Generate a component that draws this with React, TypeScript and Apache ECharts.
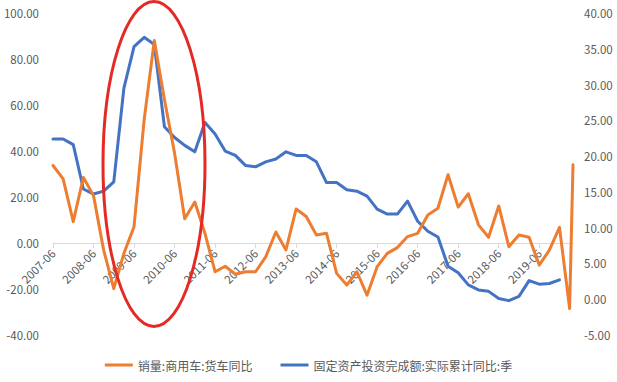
import React, { useEffect, useRef } from "react";
import * as echarts from "echarts";

const quarters = [
  "2007-06", "2007-09", "2007-12",
  "2008-03", "2008-06", "2008-09", "2008-12",
  "2009-03", "2009-06", "2009-09", "2009-12",
  "2010-03", "2010-06", "2010-09", "2010-12",
  "2011-03", "2011-06", "2011-09", "2011-12",
  "2012-03", "2012-06", "2012-09", "2012-12",
  "2013-03", "2013-06", "2013-09", "2013-12",
  "2014-03", "2014-06", "2014-09", "2014-12",
  "2015-03", "2015-06", "2015-09", "2015-12",
  "2016-03", "2016-06", "2016-09", "2016-12",
  "2017-03", "2017-06", "2017-09", "2017-12",
  "2018-03", "2018-06", "2018-09", "2018-12",
  "2019-03", "2019-06", "2019-09", "2019-12",
  "2020-03",
];
const truckDates = [...quarters, "2020-04"];

// 销量:商用车:货车同比 (left axis)
const truckSalesYoY = [
  33.7, 27.9, 9.3, 28.5, 20.6, -3.1, -19.8, -4.5, 7.1, 53.6,
  88.0, 62.4, 39.1, 10.5, 17.8, 4.2, -12.5, -10.1, -13.6, -12.5,
  -12.5, -6.0, 4.8, -3.0, 14.8, 11.5, 3.5, 4.2, -13.2, -18.3,
  -12.5, -22.7, -10.3, -4.5, -2.0, 2.8, 4.2, 12.2, 15.1, 29.7,
  15.6, 21.4, 7.9, 2.5, 16.1, -1.6, 3.5, 2.5, -9.6, -3.1,
  6.8, -28.5, 34.0,
];

// 固定资产投资完成额:实际累计同比:季 (right axis)
const faiYoY = [
  22.4, 22.4, 21.6, 15.4, 14.7, 15.1, 16.4, 29.5, 35.3, 36.6,
  35.6, 24.1, 22.6, 21.5, 20.6, 24.7, 23.1, 20.7, 20.1, 18.7,
  18.5, 19.2, 19.6, 20.6, 20.1, 20.1, 19.2, 16.3, 16.3, 15.3,
  15.1, 14.4, 12.6, 11.9, 11.9, 13.7, 10.9, 9.5, 8.7, 4.6,
  3.7, 2.0, 1.3, 1.1, 0.1, -0.2, 0.4, 2.6, 2.1, 2.2,
  2.7,
];

const xTickLabels = [
  "2007-06", "2008-06", "2009-06", "2010-06", "2011-06", "2012-06", "2013-06",
  "2014-06", "2015-06", "2016-06", "2017-06", "2018-06", "2019-06",
];

const leftAxisRange = [-40, 100];
const rightAxisRange = [-5, 40];

const seriesNames = ["销量:商用车:货车同比", "固定资产投资完成额:实际累计同比:季"];
const seriesColors = ["#ED7D31", "#4472C4"];

const monthIndex = (s: string) => {
  const [y, m] = s.split("-").map(Number);
  return (y - 2007) * 12 + (m - 6);
};

export default function App() {
  const ref = useRef<HTMLDivElement>(null);
  useEffect(() => {
    if (!ref.current) return;
    document.body.style.margin = "0";
    const chart = echarts.init(ref.current, undefined, { renderer: "svg" });
    const tickVals = xTickLabels.map(monthIndex);
    const labelFont = { color: "#595959", fontSize: 11.5, fontFamily: "Noto Sans CJK SC" };
    const gridTop = 13;
    const gridBottom = 47;
    const gridHeight = 382 - gridTop - gridBottom;
    // move the category line up to the left axis's zero
    const zeroOffset = -gridHeight * (0 - leftAxisRange[0]) / (leftAxisRange[1] - leftAxisRange[0]);
    chart.setOption({
      animation: false,
      backgroundColor: "#ffffff",
      grid: { left: 53, right: 44, top: gridTop, bottom: gridBottom, containLabel: false, outerBoundsMode: "none" },
      legend: {
        left: "center",
        top: 354,
        icon: "rect",
        itemWidth: 28,
        itemHeight: 3,
        itemGap: 28,
        textStyle: { color: "#595959", fontSize: 12, fontFamily: "Noto Sans CJK SC" },
        data: seriesNames,
      },
      xAxis: {
        type: "value",
        position: "bottom",
        offset: zeroOffset,
        min: monthIndex(truckDates[0]),
        max: monthIndex(truckDates[truckDates.length - 1]),
        interval: 12,
        axisLine: { show: true, onZero: false, lineStyle: { color: "#D9D9D9", width: 1 } },
        axisTick: { show: true, length: 5, customValues: tickVals, lineStyle: { color: "#D9D9D9" } },
        axisLabel: {
          ...labelFont,
          rotate: 45,
          margin: 8,
          customValues: tickVals,
          formatter: (v: number) => {
            const i = tickVals.indexOf(Math.round(v));
            return i >= 0 ? xTickLabels[i] : "";
          },
        },
        splitLine: { show: false },
      },
      yAxis: [
        {
          type: "value",
          min: leftAxisRange[0],
          max: leftAxisRange[1],
          interval: 20,
          axisLine: { show: false, onZero: false },
          axisTick: { show: false },
          splitLine: { show: false },
          axisLabel: { ...labelFont, margin: 14, formatter: (v: number) => v.toFixed(2) },
        },
        {
          type: "value",
          min: rightAxisRange[0],
          max: rightAxisRange[1],
          interval: 5,
          position: "right",
          axisLine: { show: false, onZero: false },
          axisTick: { show: false },
          splitLine: { show: false },
          axisLabel: { ...labelFont, margin: 11, formatter: (v: number) => v.toFixed(2) },
        },
      ],
      series: [
        {
          name: seriesNames[0],
          type: "line",
          yAxisIndex: 0,
          showSymbol: false,
          symbol: "none",
          color: seriesColors[0],
          lineStyle: { width: 3, color: seriesColors[0], cap: "round", join: "round" },
          data: truckSalesYoY.map((v, i) => [monthIndex(truckDates[i]), v]),
          z: 3,
        },
        {
          name: seriesNames[1],
          type: "line",
          yAxisIndex: 1,
          showSymbol: false,
          symbol: "none",
          color: seriesColors[1],
          lineStyle: { width: 3, color: seriesColors[1], cap: "round", join: "round" },
          data: faiYoY.map((v, i) => [monthIndex(quarters[i]), v]),
          z: 2,
        },
      ],
      graphic: [
        {
          type: "ellipse",
          z: 100,
          shape: { cx: 154, cy: 164, rx: 51, ry: 162.5 },
          style: { fill: "none", stroke: "#E42A24", lineWidth: 3 },
        },
      ],
    });
    return () => chart.dispose();
  }, []);
  return <div ref={ref} style={{ width: 617, height: 382 }} />;
}
